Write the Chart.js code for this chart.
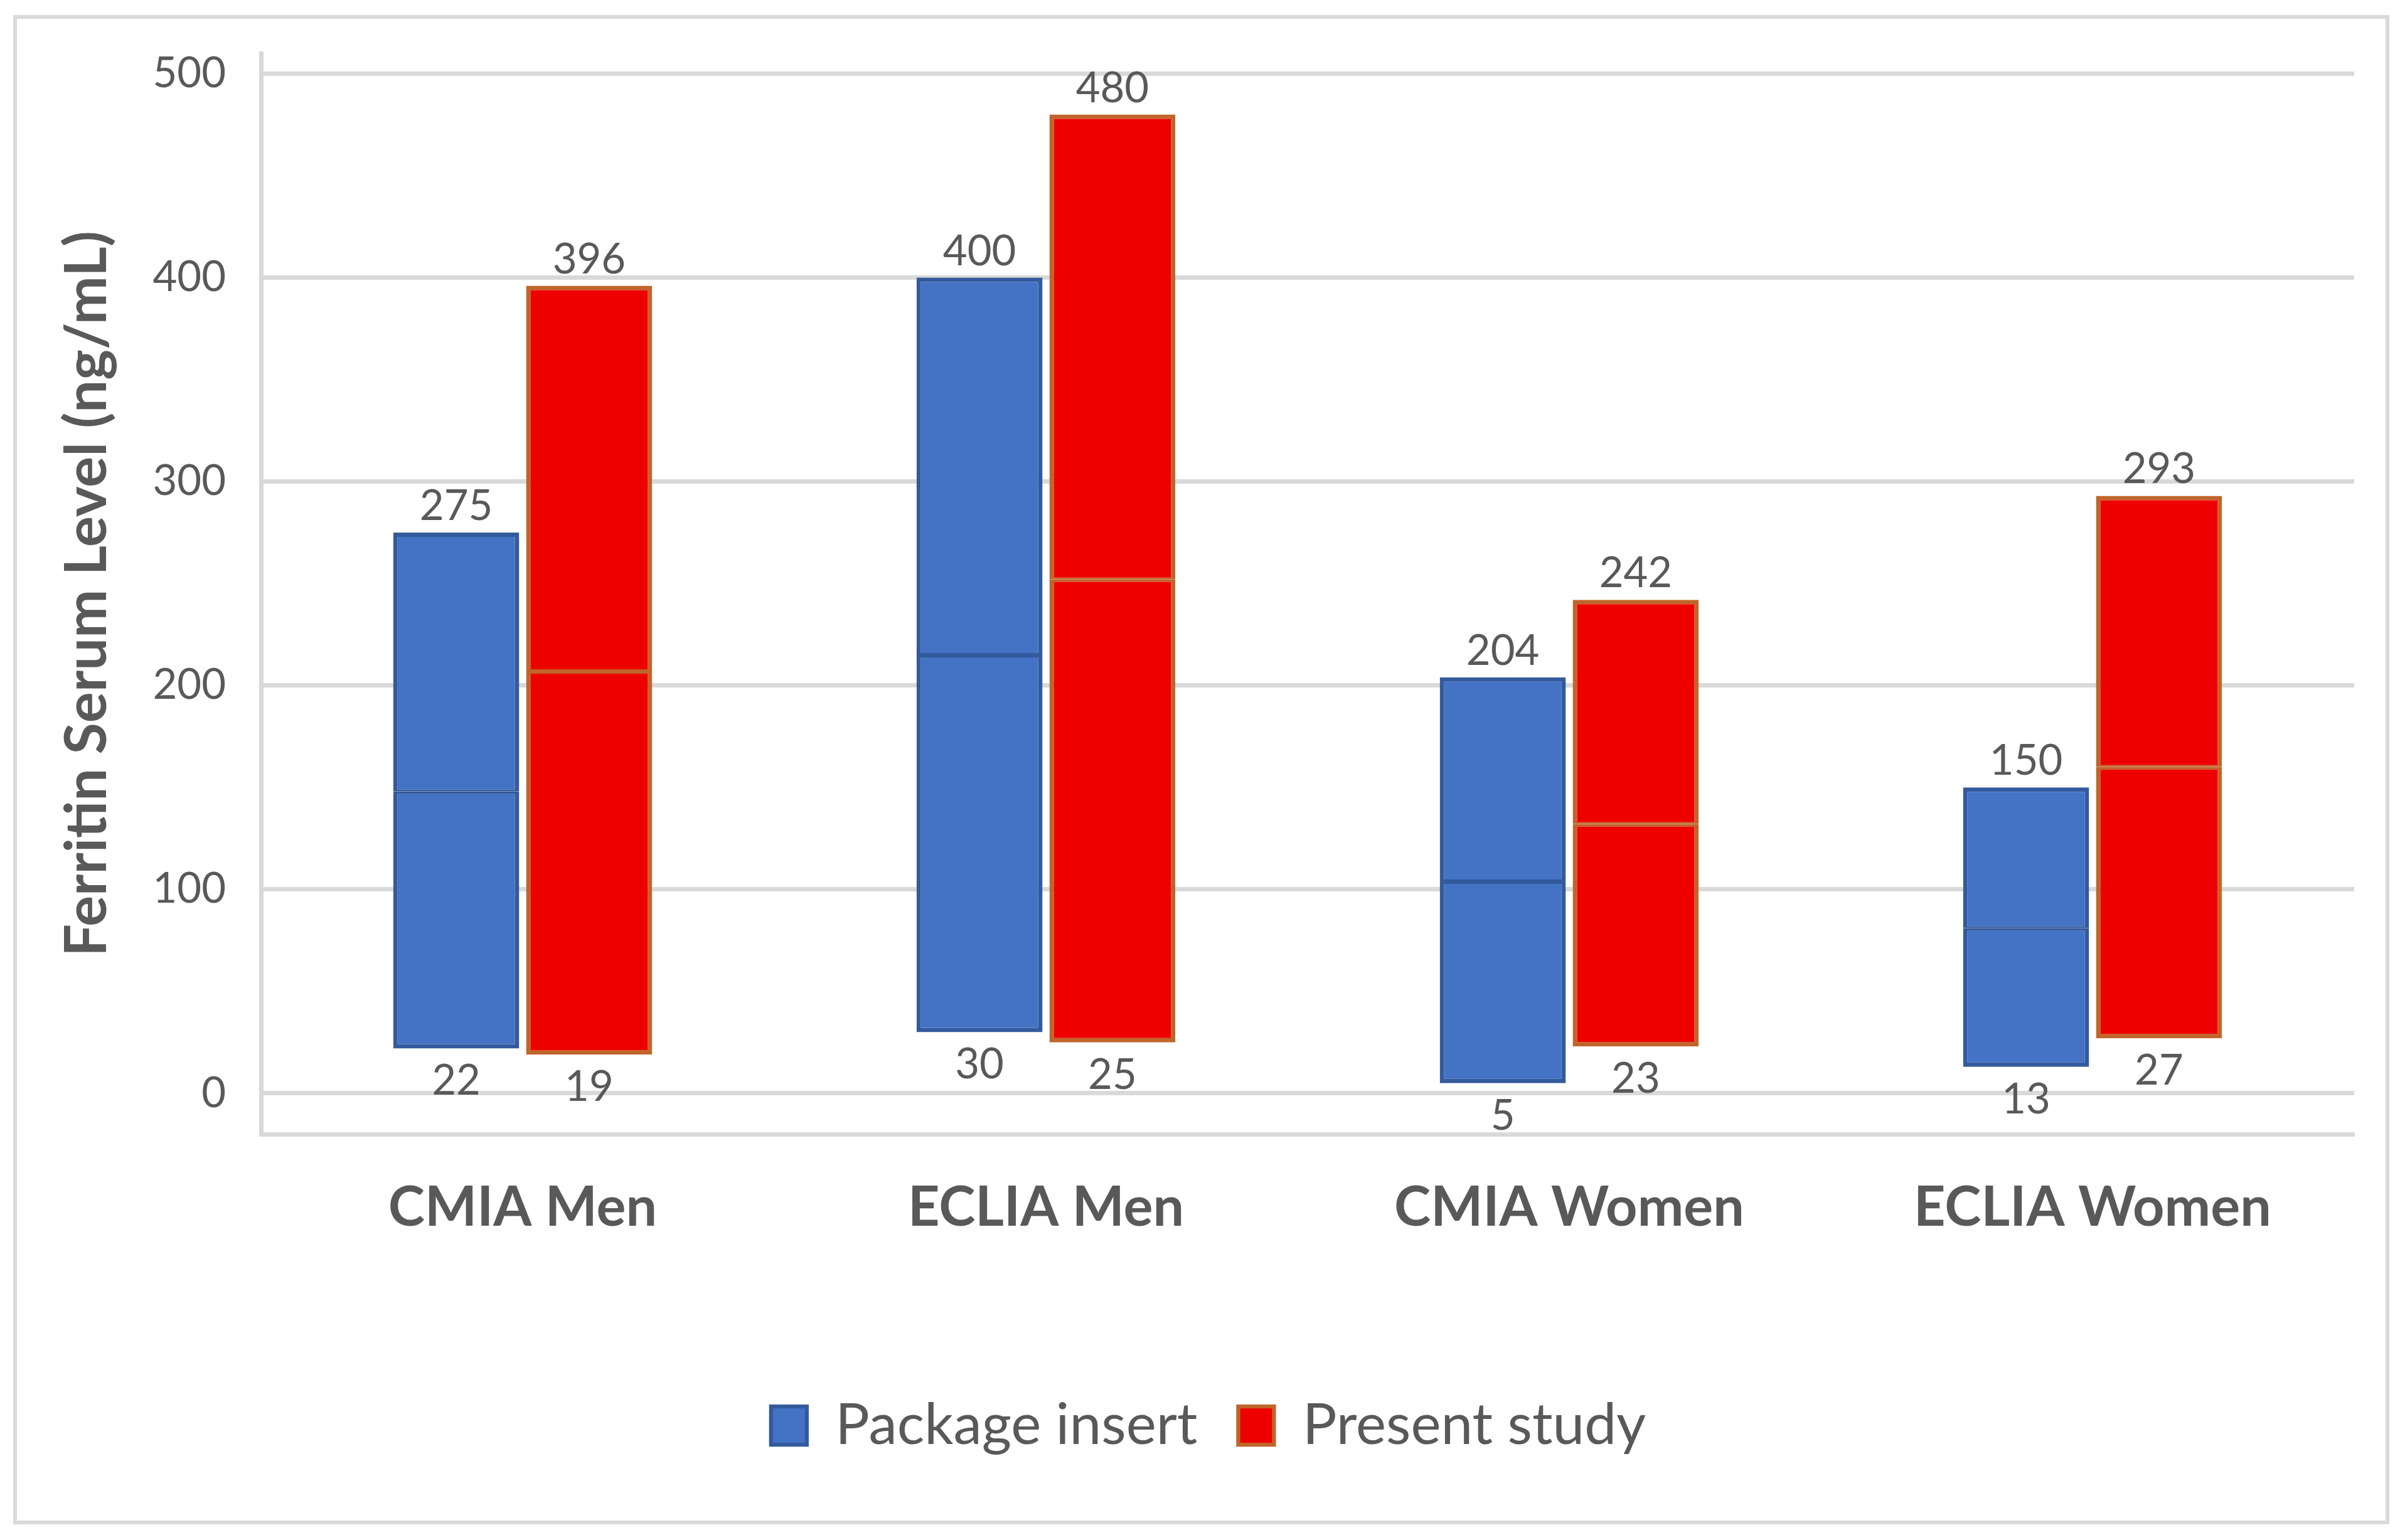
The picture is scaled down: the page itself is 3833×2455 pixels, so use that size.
<!DOCTYPE html>
<html lang="en">
<head>
<meta charset="UTF-8">
<title>Ferritin Serum Level</title>
<style>
  body { margin: 0; padding: 0; background: #fff; }
  canvas { display: block; }
</style>
</head>
<body>
<canvas id="chart" width="3833" height="2455" style="width:3833px;height:2455px;"></canvas>
<script src="https://cdn.jsdelivr.net/npm/chart.js@4.4.0/dist/chart.umd.min.js"></script>
<script>
  // values
  var categories = ['CMIA Men', 'ECLIA Men', 'CMIA Women', 'ECLIA Women'];
  var packageLow = [22, 30, 5, 13];
  var packageMid = [148, 215, 104, 81];
  var packageHigh = [275, 400, 204, 150];
  var studyLow = [19, 25, 23, 27];
  var studyMid = [207, 252, 132, 160];
  var studyHigh = [396, 480, 242, 293];
  var yTicks = [0, 100, 200, 300, 400, 500];

  var blue = '#4472C4', blueEdge = '#335A9C';
  var red = '#EE0000', redEdge = '#C0652A';
  var grey = '#595959', gridGrey = '#D9D9D9';

  function pairs(a, b) {
    return a.map(function(v, i) { return [v, b[i]]; });
  }

  var lowerBorder = { top: 4, bottom: 7, left: 7, right: 7 };
  var upperBorder = { top: 7, bottom: 3, left: 7, right: 7 };

  Chart.defaults.font.family = 'Lato';
  Chart.defaults.color = grey;

  var framePlugin = {
    id: 'frame',
    beforeDraw: function(chart) {
      var ctx = chart.ctx;
      ctx.save();
      ctx.fillStyle = '#fff';
      ctx.fillRect(0, 0, chart.width, chart.height);
      ctx.strokeStyle = gridGrey;
      ctx.lineWidth = 6;
      ctx.strokeRect(24, 27, 3781, 2400);
      ctx.restore();
    }
  };

  var rangeLabels = {
    id: 'rangeLabels',
    afterDatasetsDraw: function(chart) {
      var ctx = chart.ctx;
      var y = chart.scales.y;
      ctx.save();
      ctx.font = '67px Lato';
      ctx.fillStyle = grey;
      ctx.textAlign = 'center';
      ctx.textBaseline = 'alphabetic';
      [[1, packageHigh, packageLow], [3, studyHigh, studyLow]].forEach(function(s) {
        chart.getDatasetMeta(s[0]).data.forEach(function(bar, i) {
          ctx.fillText(String(s[1][i]), bar.x, y.getPixelForValue(s[1][i]) - 20);
          ctx.fillText(String(s[2][i]), bar.x, y.getPixelForValue(s[2][i]) + 74);
        });
      });
      ctx.restore();
    }
  };

  var ctx = document.getElementById('chart').getContext('2d');
  var chart = new Chart(ctx, {
    type: 'bar',
    data: {
      labels: categories,
      datasets: [
        {
          label: 'Package insert',
          data: pairs(packageLow, packageMid),
          stack: 'package',
          backgroundColor: blue,
          borderColor: blueEdge,
          borderWidth: lowerBorder
        },
        {
          label: 'Package insert',
          data: pairs(packageMid, packageHigh),
          stack: 'package',
          backgroundColor: blue,
          borderColor: blueEdge,
          borderWidth: upperBorder
        },
        {
          label: 'Present study',
          data: pairs(studyLow, studyMid),
          stack: 'study',
          backgroundColor: red,
          borderColor: redEdge,
          borderWidth: lowerBorder
        },
        {
          label: 'Present study',
          data: pairs(studyMid, studyHigh),
          stack: 'study',
          backgroundColor: red,
          borderColor: redEdge,
          borderWidth: upperBorder
        }
      ]
    },
    options: {
      responsive: false,
      devicePixelRatio: 1,
      animation: false,
      datasets: {
        bar: {
          categoryPercentage: 0.508,
          barPercentage: 0.948,
          borderSkipped: false
        }
      },
      layout: {
        padding: { left: 100, right: 81, top: 85, bottom: 127 }
      },
      plugins: {
        tooltip: { enabled: false },
        legend: {
          position: 'bottom',
          labels: {
            boxWidth: 57,
            boxHeight: 61,
            padding: 65,
            color: grey,
            font: { size: 91 },
            filter: function(item) {
              return item.datasetIndex === 0 || item.datasetIndex === 2;
            }
          }
        }
      },
      scales: {
        x: {
          stacked: true,
          grid: { display: false, drawTicks: false },
          border: { display: true, color: gridGrey, width: 7 },
          ticks: {
            padding: 65,
            color: grey,
            font: { size: 88, weight: 'bold' }
          },
          afterFit: function(scale) { scale.height = 354; }
        },
        y: {
          stacked: false,
          min: -20,
          max: 510,
          afterBuildTicks: function(scale) {
            scale.ticks = yTicks.map(function(v) { return { value: v }; });
          },
          grid: { color: gridGrey, lineWidth: 7, drawTicks: false },
          border: { display: true, color: gridGrey, width: 7 },
          ticks: {
            padding: 56,
            color: grey,
            font: { size: 67 }
          },
          title: {
            display: true,
            text: 'Ferritin Serum Level (ng/mL)',
            color: grey,
            font: { size: 92, weight: 'bold' },
            padding: { top: -16, bottom: 0 }
          },
          afterFit: function(scale) {
            scale.width = 316;
            scale.paddingTop = 0;
            scale.paddingBottom = 0;
          }
        }
      }
    },
    plugins: [framePlugin, rangeLabels]
  });
</script>
</body>
</html>
